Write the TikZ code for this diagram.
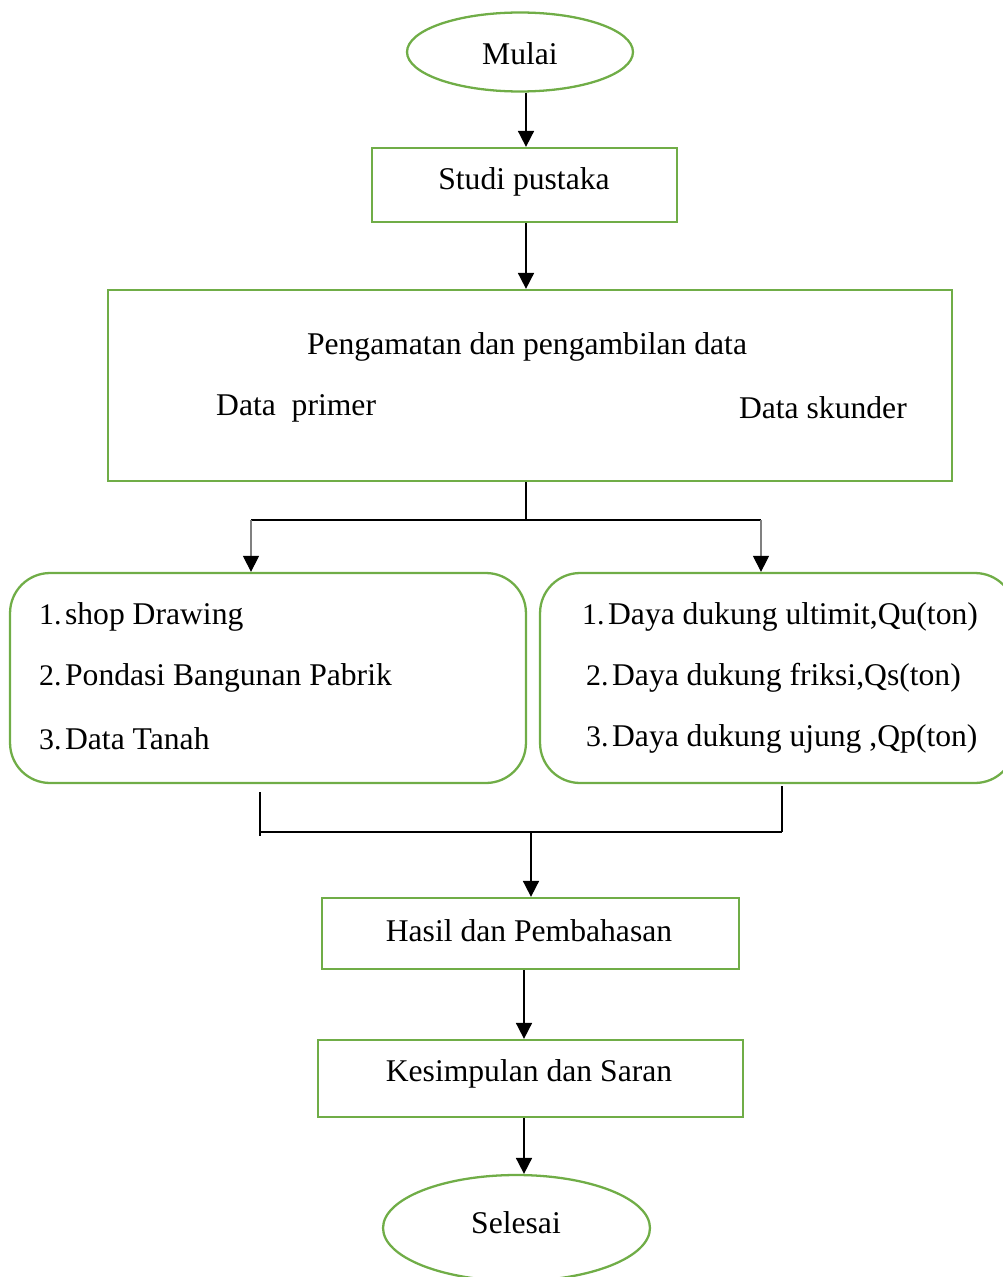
\documentclass[tikz,border=0pt]{standalone}
\usepackage{fontspec}
\setmainfont{Liberation Serif}
\usepackage{tikz}
\usetikzlibrary{shapes.geometric,arrows.meta}

\definecolor{hijau}{RGB}{112,173,71}
\newcommand{\nomor}[1]{{\fontsize{17}{20}\selectfont #1}\hspace{2pt}}

\tikzset{
  kotak/.style={draw=hijau, line width=1.3pt, rectangle, inner sep=0pt},
  oval/.style={draw=hijau, line width=1.3pt, ellipse, inner sep=0pt},
  bulat/.style={draw=hijau, line width=1.3pt, rectangle, rounded corners=0.8cm, inner sep=0pt},
  panah/.style={line width=1pt, -{Triangle[width=0.32cm,length=0.32cm]}},
  cabang/.style={line width=0.6pt, gray, -{Triangle[width=0.32cm,length=0.32cm,color=black]}},
  garis/.style={line width=0.6pt}
}

\begin{document}
\begin{tikzpicture}[x=0.02cm,y=-0.02cm,font=\fontsize{18}{22}\selectfont]
\useasboundingbox (0,0) rectangle (1002,1277);
% mulai dan studi pustaka
\node [oval, minimum width=4.52cm, minimum height=1.58cm] (mulai) at (520,52) {};
\node (tmulai) at (520,54) {Mulai};
\node [kotak, minimum width=6.1cm, minimum height=1.48cm] (studi) at (524.5,185) {};
\node (tstudi) at (524,182) {Studi pustaka};
% pengamatan
\node [kotak, minimum width=16.88cm, minimum height=3.82cm] (data) at (530,385.5) {};
\node (tdata) at (527,347) {Pengamatan dan pengambilan data};
\node [anchor=west] (primer) at (210,408) {Data\ \ primer};
\node [anchor=east] (skunder) at (913,408) {Data skunder};
% data primer dan analisis
\node [bulat, minimum width=10.32cm, minimum height=4.2cm] (kiri) at (268,678) {};
\node [bulat, minimum width=9.5cm, minimum height=4.2cm] (kanan) at (777.5,678) {};
\node [anchor=west] (k1) at (33,617) {\nomor{1.}shop Drawing};
\node [anchor=west] (k2) at (33,678) {\nomor{2.}Pondasi Bangunan Pabrik};
\node [anchor=west] (k3) at (33,739) {\nomor{3.}Data Tanah};
\node [anchor=west] (n1) at (576,617) {\nomor{1.}Daya dukung ultimit,Qu(ton)};
\node [anchor=west] (n2) at (580,678) {\nomor{2.}Daya dukung friksi,Qs(ton)};
\node [anchor=west] (n3) at (580,739) {\nomor{3.}Daya dukung ujung ,Qp(ton)};
% hasil sampai selesai
\node [kotak, minimum width=8.34cm, minimum height=1.42cm] (hasil) at (530.5,933.5) {};
\node (thasil) at (529,931) {Hasil dan Pembahasan};
\node [kotak, minimum width=8.5cm, minimum height=1.54cm] (simpul) at (530.5,1078.5) {};
\node (tsimpul) at (529,1074) {Kesimpulan dan Saran};
\node [oval, minimum width=5.34cm, minimum height=2.12cm] (selesai) at (516.5,1228) {};
\node (tselesai) at (516,1223) {Selesai};

\coordinate (bl) at (251,520);
\coordinate (br) at (761,520);
\coordinate (ml) at (260,832);
\coordinate (mr) at (782,832);
\coordinate (mm) at (531,832);

\draw [panah] ([xshift=0.12cm]mulai.south) -- ([xshift=0.12cm]mulai.south |- studi.north);
\draw [panah] ([xshift=0.03cm]studi.south) -- ([xshift=0.03cm]studi.south |- data.north);
\draw [garis] ([xshift=-0.08cm]data.south) -- ([xshift=-0.08cm]data.south |- bl);
\draw [garis] (bl) -- (br);
\draw [cabang] (bl) -- (bl |- kiri.north);
\draw [cabang] (br) -- (br |- kanan.north);
\draw [garis] ([yshift=-0.16cm]kiri.south -| ml) -- ([yshift=-0.08cm]ml);
\draw [garis] ([yshift=-0.04cm]kanan.south -| mr) -- (mr);
\draw [garis] (ml) -- (mr);
\draw [panah] (mm) -- (mm |- hasil.north);
\draw [panah] ([xshift=-0.13cm]hasil.south) -- ([xshift=-0.13cm]hasil.south |- simpul.north);
\draw [panah] ([xshift=-0.13cm]simpul.south) -- ([xshift=-0.13cm]simpul.south |- selesai.north);
\end{tikzpicture}
\end{document}
